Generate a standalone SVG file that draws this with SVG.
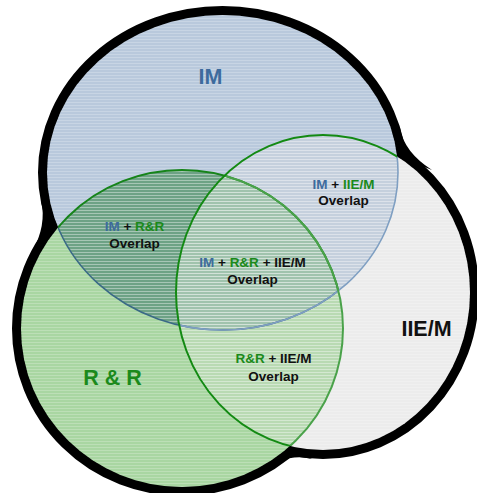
<svg xmlns="http://www.w3.org/2000/svg" width="477" height="493" viewBox="0 0 477 493">
  <style>
    .lbl { font-family: "Liberation Sans", Arial, sans-serif; font-weight: bold; text-anchor: middle; }
    .big { font-size: 21.5px; }
    .small { font-size: 13.5px; }
    .blue { fill: #3d6b9d; }
    .green { fill: #1b8a1b; }
    .dark { fill: #111111; }
  </style>
  <defs>
    <ellipse id="im-shape" cx="222.5" cy="172.5" rx="175.5" ry="157.5"/>
    <ellipse id="rr-shape" cx="182" cy="328.5" rx="161" ry="158.5"/>
    <ellipse id="iie-shape" cx="323" cy="292.5" rx="147" ry="157.5"/>
    <clipPath id="clip-im"><use href="#im-shape"/></clipPath>
    <clipPath id="clip-rr"><use href="#rr-shape"/></clipPath>
    <clipPath id="clip-iie"><use href="#iie-shape"/></clipPath>
    <clipPath id="clip-im-rr"><use href="#im-shape"/><use href="#rr-shape"/></clipPath>
    <pattern id="lines" width="4" height="3" patternUnits="userSpaceOnUse">
      <rect width="4" height="1" fill="#ffffff" fill-opacity="0.22"/>
    </pattern>
  </defs>

  <!-- heavy border around the whole set union -->
  <g id="border" fill="#000">
    <g stroke="#000" stroke-width="18">
      <use href="#im-shape"/>
      <use href="#rr-shape"/>
      <use href="#iie-shape"/>
    </g>
    <!-- rounded fillets where the circles meet on the rim -->
    <path d="M57 229 L41 200 Q47 225 32 252 Z"/>
    <path d="M397 156 L400 128 Q404 152 432 170 Z"/>
    <path d="M289 447 L262 474 Q285 452 312 459 Z"/>
  </g>

  <!-- set regions -->
  <g id="set-rr"><use href="#rr-shape" fill="#a9d6a2"/></g>
  <g id="set-im"><use href="#im-shape" fill="#b9c9dc"/></g>
  <g id="overlap-im-rr" clip-path="url(#clip-rr)"><use href="#im-shape" fill="#6da285"/></g>
  <g id="set-iie"><use href="#iie-shape" fill="#ececec"/></g>
  <g id="overlap-im-iie" clip-path="url(#clip-iie)"><use href="#im-shape" fill="#c5d0dd"/></g>
  <g id="overlap-rr-iie" clip-path="url(#clip-iie)"><use href="#rr-shape" fill="#b9dab3"/></g>
  <g id="overlap-all" clip-path="url(#clip-iie)"><g clip-path="url(#clip-rr)"><use href="#im-shape" fill="#a0c3ad"/></g></g>

  <!-- fine horizontal line texture -->
  <g id="texture" fill="url(#lines)">
    <use href="#im-shape"/>
    <use href="#rr-shape"/>
    <use href="#iie-shape"/>
  </g>

  <!-- inner arcs of the circles -->
  <g id="connectors" fill="none">
    <use href="#im-shape" stroke="#3a6a86" stroke-width="1.6" clip-path="url(#clip-rr)"/>
    <use href="#rr-shape" stroke="#16841a" stroke-width="2" clip-path="url(#clip-im)"/>
    <g clip-path="url(#clip-iie)">
      <use href="#im-shape" stroke="#7f9fc2" stroke-width="1.6"/>
      <use href="#rr-shape" stroke="#4aa24a" stroke-width="2"/>
    </g>
    <use href="#iie-shape" stroke="#138a13" stroke-width="2" clip-path="url(#clip-im-rr)"/>
  </g>

  <!-- labels -->
  <g id="label-im"><text class="lbl big blue" x="210.5" y="84">IM</text></g>
  <g id="label-rr"><text class="lbl big green" x="112.5" y="385">R &amp; R</text></g>
  <g id="label-iie"><text class="lbl big dark" x="426.5" y="336">IIE/M</text></g>
  <g id="label-im-iie">
    <text class="lbl small" x="343.5" y="189"><tspan class="blue">IM</tspan><tspan class="dark"> + </tspan><tspan class="green">IIE/M</tspan></text>
    <text class="lbl small dark" x="343.5" y="205">Overlap</text>
  </g>
  <g id="label-im-rr">
    <text class="lbl small" x="134.5" y="231"><tspan class="blue">IM</tspan><tspan class="dark"> + </tspan><tspan class="green">R&amp;R</tspan></text>
    <text class="lbl small dark" x="134.5" y="248">Overlap</text>
  </g>
  <g id="label-all">
    <text class="lbl small" x="252.5" y="267"><tspan class="blue">IM</tspan><tspan class="dark"> + </tspan><tspan class="green">R&amp;R</tspan><tspan class="dark"> + IIE/M</tspan></text>
    <text class="lbl small dark" x="252.5" y="284">Overlap</text>
  </g>
  <g id="label-rr-iie">
    <text class="lbl small" x="273.5" y="363"><tspan class="green">R&amp;R</tspan><tspan class="dark"> + IIE/M</tspan></text>
    <text class="lbl small dark" x="273.5" y="381">Overlap</text>
  </g>
</svg>
